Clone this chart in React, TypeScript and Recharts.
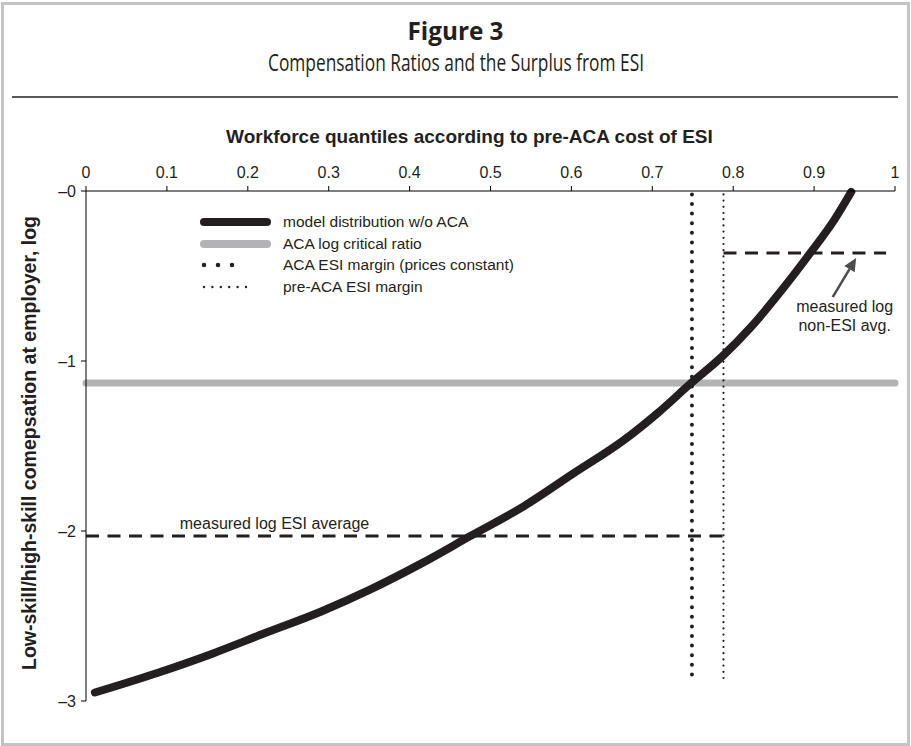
import React from "react";
import { LineChart, Line, XAxis, YAxis, ReferenceLine, Legend } from "recharts";

// model distribution w/o ACA: quantile and log compensation ratio
const quantiles = [
  0.011, 0.088, 0.157, 0.219, 0.29, 0.351, 0.413, 0.475, 0.541, 0.603,
  0.665, 0.707, 0.748, 0.786, 0.822, 0.863, 0.896, 0.925, 0.946,
];
const logRatios = [
  -2.95, -2.835, -2.72, -2.605, -2.475, -2.345, -2.195, -2.03, -1.855, -1.66,
  -1.465, -1.305, -1.13, -0.975, -0.8, -0.565, -0.36, -0.17, -0.005,
];

const xTicks = [0, 0.1, 0.2, 0.3, 0.4, 0.5, 0.6, 0.7, 0.8, 0.9, 1];
const yTicks = [0, -1, -2, -3];

const criticalRatio = -1.13;
const acaMargin = 0.749;
const preAcaMargin = 0.788;
const marginSpan = [-0.02, -2.89];
const esiAverage = -2.03;
const nonEsiAverage = -0.365;
const nonEsiEnd = 0.989;
const esiLabelAt = 0.233;
const arrowTail = { x: 0.923, y: -0.624 };
const arrowTip = { x: 0.952, y: -0.394 };

const legendLabels = [
  "model distribution w/o ACA",
  "ACA log critical ratio",
  "ACA ESI margin (prices constant)",
  "pre-ACA ESI margin",
];

const INK = "#231f20";
const GRAY = "#b3b3b5";
const FONT = '"Liberation Sans", Arial, Helvetica, sans-serif';

const curveData = quantiles.map((q, i) => ({ q, v: logRatios[i] }));

// legend samples: solid strokes run the full width, dotted ones stop short
const swatches = [
  { stroke: INK, width: 8, dash: undefined, x2: 71 },
  { stroke: GRAY, width: 8, dash: undefined, x2: 71 },
  { stroke: INK, width: 4.5, dash: "0 14", x2: 50 },
  { stroke: INK, width: 2.4, dash: "0 8.4", x2: 50 },
];

function LegendContent() {
  return (
    <div style={{ fontFamily: FONT, fontSize: 15.5, color: INK }}>
      {legendLabels.map((label, i) => (
        <div key={label} style={{ display: "flex", alignItems: "center", height: 21.7 }}>
          <svg width={87} height={12}>
            <line
              x1={8}
              x2={swatches[i].x2}
              y1={6}
              y2={6}
              stroke={swatches[i].stroke}
              strokeWidth={swatches[i].width}
              strokeDasharray={swatches[i].dash}
              strokeLinecap="round"
            />
          </svg>
          <span style={{ whiteSpace: "nowrap" }}>{label}</span>
        </div>
      ))}
    </div>
  );
}

function XTitle({ viewBox }: any) {
  return (
    <text
      x={viewBox.x + viewBox.width * 0.474}
      y={viewBox.y + 12}
      textAnchor="middle"
      fontFamily={FONT}
      fontSize={19}
      fontWeight="bold"
      fill={INK}
    >
      Workforce quantiles according to pre-ACA cost of ESI
    </text>
  );
}

function YTitle({ viewBox }: any) {
  const cx = viewBox.x + 3;
  const cy = viewBox.y + viewBox.height / 2 - 3;
  return (
    <text
      x={cx}
      y={cy}
      transform={`rotate(-90 ${cx} ${cy})`}
      textAnchor="middle"
      dominantBaseline="central"
      fontFamily={FONT}
      fontSize={19.5}
      fontWeight="bold"
      fill={INK}
    >
      Low-skill/high-skill comepsation at employer, log
    </text>
  );
}

function EsiLabel({ viewBox }: any) {
  return (
    <text
      x={viewBox.x + (viewBox.width * esiLabelAt) / preAcaMargin}
      y={viewBox.y - 7}
      textAnchor="middle"
      fontFamily={FONT}
      fontSize={16}
      fill={INK}
    >
      measured log ESI average
    </text>
  );
}

// arrow pointing at the non-ESI average, with its caption under the tail
function ArrowShape(props: any) {
  const { x1, y1, x2, y2 } = props;
  const a = Math.atan2(y2 - y1, x2 - x1);
  const len = 13;
  const half = 6;
  const bx = x2 - len * Math.cos(a);
  const by = y2 - len * Math.sin(a);
  const pts = [
    `${x2},${y2}`,
    `${bx - half * Math.sin(a)},${by + half * Math.cos(a)}`,
    `${bx + half * Math.sin(a)},${by - half * Math.cos(a)}`,
  ].join(" ");
  return (
    <g>
      <line x1={x1} y1={y1} x2={bx} y2={by} stroke="#4d4d4f" strokeWidth={2.5} />
      <polygon points={pts} fill="#4d4d4f" />
      <text fontFamily={FONT} fontSize={16} fill={INK} textAnchor="middle">
        <tspan x={x1 + 12} y={y1 + 15}>measured log</tspan>
        <tspan x={x1 + 12} y={y1 + 34}>non-ESI avg.</tspan>
      </text>
    </g>
  );
}

export default function App() {
  return (
    <div style={{ position: "absolute", left: 0, top: 0, width: 911, height: 746, background: "#fff" }}>
      <div
        style={{
          position: "absolute",
          left: 1,
          top: 2,
          width: 909,
          height: 744,
          border: "3px solid #c4c4c4",
          boxSizing: "border-box",
        }}
      />
      <svg width={911} height={110} style={{ position: "absolute", left: 0, top: 0 }}>
        <text
          x={455.5}
          y={40}
          textAnchor="middle"
          fontFamily='"Open Sans", sans-serif'
          fontWeight={700}
          fontSize={25}
          textLength={96}
          lengthAdjust="spacingAndGlyphs"
          fill={INK}
        >
          Figure 3
        </text>
        <text
          x={456}
          y={71}
          textAnchor="middle"
          fontFamily='"Open Sans", sans-serif'
          fontSize={23}
          textLength={376}
          lengthAdjust="spacingAndGlyphs"
          fill={INK}
        >
          Compensation Ratios and the Surplus from ESI
        </text>
        <line x1={12} x2={898} y1={97} y2={97} stroke={INK} strokeWidth={1.5} />
      </svg>
      <div style={{ position: "absolute", left: 0, top: 0 }}>
        <LineChart width={911} height={746} margin={{ top: 131, right: 16, bottom: 45, left: 26 }}>
          <XAxis
            type="number"
            dataKey="q"
            orientation="top"
            domain={[0, 1]}
            ticks={xTicks}
            interval={0}
            height={60}
            tickSize={5}
            tickMargin={8}
            tickFormatter={(v) => String(v)}
            axisLine={{ stroke: "#000" }}
            tickLine={{ stroke: "#000" }}
            tick={{ fill: INK, fontSize: 16, fontFamily: FONT }}
            label={XTitle}
          />
          <YAxis
            type="number"
            domain={[-3, 0]}
            ticks={yTicks}
            interval={0}
            width={60}
            tickSize={5}
            tickMargin={5}
            tickFormatter={(v) => "\u2013" + Math.abs(v)}
            axisLine={{ stroke: "#000" }}
            tickLine={{ stroke: "#000" }}
            tick={{ fill: INK, fontSize: 16, fontFamily: FONT }}
            label={YTitle}
          />
          <Legend
            layout="vertical"
            align="center"
            verticalAlign="middle"
            content={LegendContent}
            wrapperStyle={{ left: 196, top: 211, width: 360 }}
          />
          <ReferenceLine y={criticalRatio} stroke={GRAY} strokeWidth={7} strokeLinecap="round" />
          <ReferenceLine
            segment={[
              { x: 0, y: esiAverage },
              { x: preAcaMargin, y: esiAverage },
            ]}
            stroke={INK}
            strokeWidth={3}
            strokeDasharray="13 8.5"
            label={EsiLabel}
          />
          <ReferenceLine
            segment={[
              { x: preAcaMargin, y: nonEsiAverage },
              { x: nonEsiEnd, y: nonEsiAverage },
            ]}
            stroke={INK}
            strokeWidth={3}
            strokeDasharray="13 8.5"
          />
          <Line
            data={curveData}
            dataKey="v"
            type="monotone"
            stroke={INK}
            strokeWidth={8}
            strokeLinecap="round"
            strokeLinejoin="round"
            dot={false}
            activeDot={false}
            isAnimationActive={false}
          />
          <ReferenceLine
            segment={[
              { x: acaMargin, y: marginSpan[0] },
              { x: acaMargin, y: marginSpan[1] },
            ]}
            stroke={INK}
            strokeWidth={4}
            strokeDasharray="0 9.6"
            strokeLinecap="round"
          />
          <ReferenceLine
            segment={[
              { x: preAcaMargin, y: marginSpan[0] },
              { x: preAcaMargin, y: marginSpan[1] },
            ]}
            stroke={INK}
            strokeWidth={2.2}
            strokeDasharray="0 6.2"
            strokeLinecap="round"
          />
          <ReferenceLine segment={[arrowTail, arrowTip]} shape={ArrowShape} />
        </LineChart>
      </div>
    </div>
  );
}
